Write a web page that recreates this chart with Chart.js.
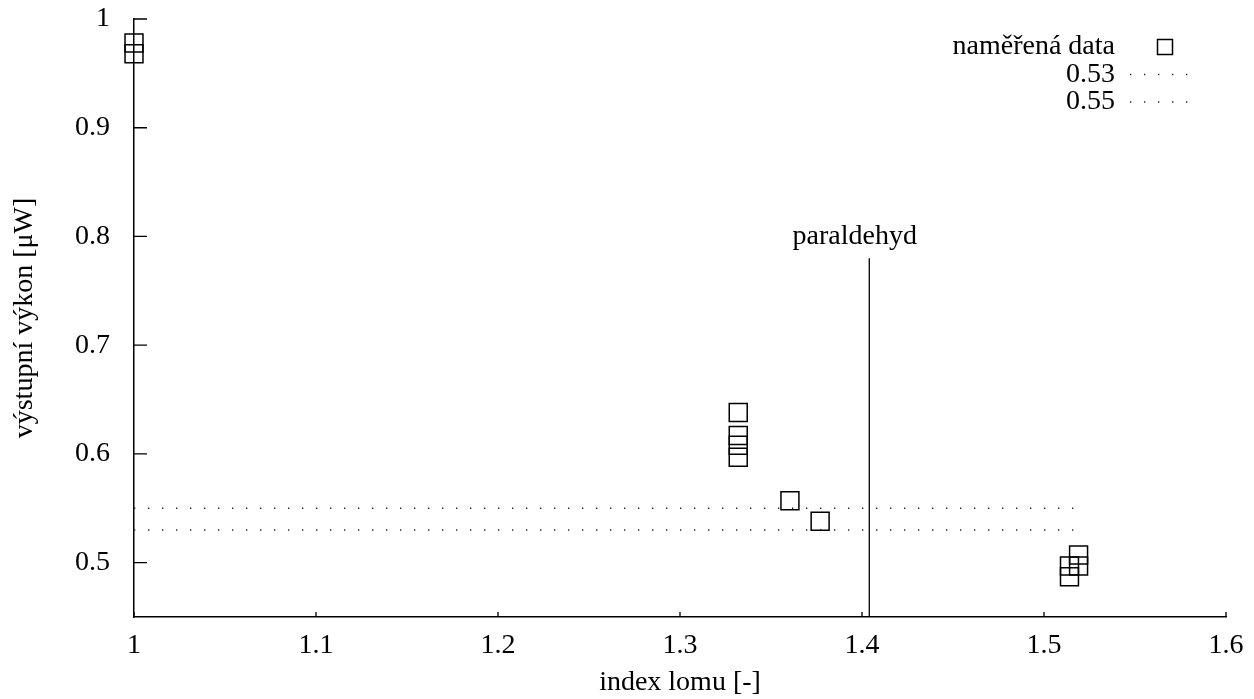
<!DOCTYPE html>
<html>
<head>
<meta charset="utf-8">
<script src="https://cdn.jsdelivr.net/npm/chart.js@4/dist/chart.umd.min.js"></script>
<style>
  body { margin: 0; background: #fff; }
  canvas { display: block; }
</style>
</head>
<body>
<canvas id="graf" width="1254" height="699"></canvas>
<script>
// namerena data
const indexLomu = [1, 1, 1.332, 1.332, 1.332, 1.332, 1.3604, 1.377, 1.519, 1.519, 1.514, 1.514];
const vykon = [0.978, 0.968, 0.638, 0.617, 0.608, 0.597, 0.557, 0.538, 0.507, 0.497, 0.497, 0.487];

// vodorovne urovne
const urovne = [0.53, 0.55];
const urovenOd = 1;
const urovenDo = 1.52;

// paraldehyd
const paraldehydX = 1.404;
const paraldehydY = [0.45, 0.78];
const popisek = 'paraldehyd';
const popisekPoz = [1.396, 0.80];

const xTicks = [1, 1.1, 1.2, 1.3, 1.4, 1.5, 1.6];
const yTicks = [0.5, 0.6, 0.7, 0.8, 0.9, 1];
const xLabels = ['1', '1.1', '1.2', '1.3', '1.4', '1.5', '1.6'];
const yLabels = ['0.5', '0.6', '0.7', '0.8', '0.9', '1'];

const FONT = '"Liberation Serif", "Times New Roman", serif';
const FSIZE = 28;
const dotted = [1.3, 12.7];

const datasets = [
  {
    label: 'naměřená data',
    type: 'scatter',
    data: indexLomu.map((x, i) => ({x: x, y: vykon[i]})),
    pointStyle: 'rect',
    radius: 12.7,
    borderColor: '#000',
    backgroundColor: 'rgba(0,0,0,0)',
    borderWidth: 1.5,
    clip: false,
  },
];
urovne.forEach(u => {
  datasets.push({
    label: String(u),
    type: 'line',
    data: [{x: urovenOd, y: u}, {x: urovenDo, y: u}],
    borderColor: '#222',
    borderWidth: 1.4,
    borderDash: dotted,
    pointRadius: 0,
    fill: false,
  });
});
datasets.push({
  label: popisek,
  type: 'line',
  data: paraldehydY.map(y => ({x: paraldehydX, y: y})),
  borderColor: '#000',
  borderWidth: 1.3,
  pointRadius: 0,
  fill: false,
  legendSkip: true,
});

// dovnitr smerujici ticky, popisek a legenda
const overlay = {
  id: 'overlay',
  afterDraw(chart) {
    const ctx = chart.ctx;
    const xs = chart.scales.x, ys = chart.scales.y;
    const a = chart.chartArea;
    ctx.save();
    ctx.strokeStyle = '#000';
    ctx.lineWidth = 1.3;
    ctx.beginPath();
    ys.ticks.forEach(t => {
      const py = ys.getPixelForValue(t.value);
      ctx.moveTo(a.left, py); ctx.lineTo(a.left + 13, py);
    });
    xs.ticks.forEach(t => {
      const px = xs.getPixelForValue(t.value);
      ctx.moveTo(px, a.bottom); ctx.lineTo(px, a.bottom - 5);
    });
    ctx.stroke();

    ctx.fillStyle = '#000';
    ctx.font = FSIZE + 'px ' + FONT;
    ctx.textAlign = 'center';
    ctx.textBaseline = 'middle';
    ctx.fillText(popisek, xs.getPixelForValue(popisekPoz[0]), ys.getPixelForValue(popisekPoz[1]));

    // legenda
    const textRight = a.right - 111;
    const sx0 = a.right - 96, sx1 = a.right - 26;
    chart.data.datasets.forEach((ds, i) => {
      if (ds.legendSkip) return;
      const ry = a.top + 28 + i * 27.5;
      ctx.textAlign = 'right';
      ctx.fillText(ds.label, textRight, ry);
      ctx.strokeStyle = ds.borderColor;
      ctx.lineWidth = ds.borderWidth;
      if (ds.type === 'scatter') {
        ctx.strokeRect(sx0 + 35 - 7.5, ry - 7.5, 15, 15);
      } else {
        ctx.setLineDash(dotted);
        ctx.beginPath();
        ctx.moveTo(sx0, ry); ctx.lineTo(sx1, ry);
        ctx.stroke();
        ctx.setLineDash([]);
      }
    });
    ctx.restore();
  }
};

new Chart(document.getElementById('graf'), {
  data: {datasets: datasets},
  options: {
    responsive: false,
    animation: false,
    layout: {padding: {top: 19, right: 28, left: 0, bottom: 0}},
    plugins: {legend: {display: false}, tooltip: {enabled: false}},
    scales: {
      x: {
        type: 'linear',
        min: 1, max: 1.6,
        afterBuildTicks: s => { s.ticks = xTicks.map(v => ({value: v})); },
        afterFit: s => { s.height = 82; s.paddingLeft = 0; s.paddingRight = 0; },
        grid: {display: false},
        border: {display: true, color: '#000', width: 1.5},
        ticks: {
          color: '#000', padding: 4, maxRotation: 0,
          font: {family: FONT, size: FSIZE},
          callback: (v) => xLabels[xTicks.indexOf(v)]
        },
        title: {display: true, text: 'index lomu [-]', color: '#000', font: {family: FONT, size: FSIZE}, padding: {top: 0, bottom: 0}}
      },
      y: {
        type: 'linear',
        min: 0.45, max: 1,
        afterBuildTicks: s => { s.ticks = yTicks.map(v => ({value: v})); },
        afterFit: s => { s.width = 134; s.paddingTop = 0; s.paddingBottom = 0; },
        grid: {display: false},
        border: {display: true, color: '#000', width: 1.5},
        ticks: {
          color: '#000', padding: 16,
          font: {family: FONT, size: FSIZE},
          callback: (v) => yLabels[yTicks.indexOf(v)]
        },
        title: {display: true, text: 'výstupní výkon [μW]', color: '#000', font: {family: FONT, size: FSIZE}, padding: {top: 8, bottom: 0}}
      }
    }
  },
  plugins: [overlay]
});
</script>
</body>
</html>
